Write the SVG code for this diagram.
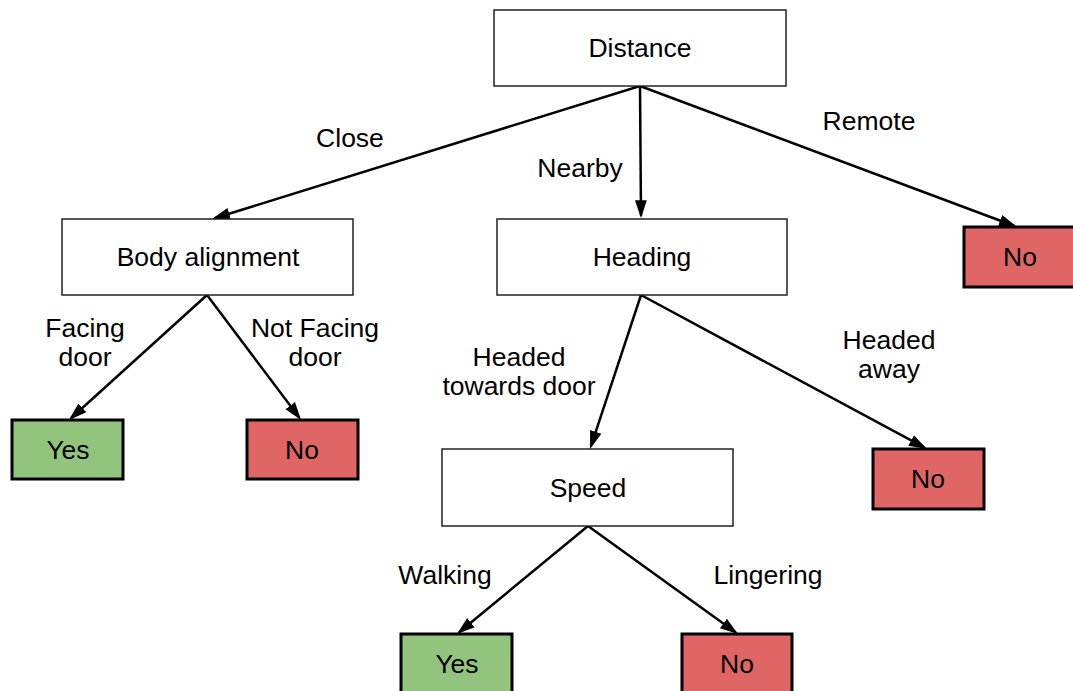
<svg xmlns="http://www.w3.org/2000/svg" width="1073" height="691" viewBox="0 0 1073 691">
<style>
text{font-family:"Liberation Sans",Arial,sans-serif;font-size:26.5px;fill:#000;text-anchor:middle}
.q{fill:#fff;stroke:#222;stroke-width:1.5}
.yes{fill:#93c47d;stroke:#000;stroke-width:3}
.no{fill:#e06666;stroke:#000;stroke-width:3}
.c line{stroke:#000;stroke-width:2.5;fill:none;marker-end:url(#ah)}
</style>
<defs>
<marker id="ah" viewBox="0 0 10 10" refX="8.5" refY="5" markerWidth="18" markerHeight="18" markerUnits="userSpaceOnUse" orient="auto"><path d="M0,1.7L10,5L0,8.3z" fill="#000"/></marker>
</defs>
<rect width="1073" height="691" fill="#fff"/>
<g class="c" id="connectors">
<line x1="640" y1="86" x2="214.6" y2="218.2"/>
<line x1="640" y1="86" x2="641" y2="215.5"/>
<line x1="640" y1="86" x2="1014.5" y2="226"/>
<line x1="207" y1="295" x2="71" y2="418.2"/>
<line x1="207" y1="295" x2="299.4" y2="417.8"/>
<line x1="641" y1="295" x2="590.9" y2="446.4"/>
<line x1="641" y1="295" x2="924.6" y2="447.7"/>
<line x1="588" y1="526" x2="459.1" y2="632.3"/>
<line x1="588" y1="526" x2="735.8" y2="632.4"/>
</g>
<g id="labels">
<text x="350" y="147">Close</text>
<text x="580" y="177">Nearby</text>
<text x="869" y="130">Remote</text>
<text x="85" y="337">Facing</text>
<text x="85" y="366">door</text>
<text x="315" y="337">Not Facing</text>
<text x="315" y="366">door</text>
<text x="519" y="366">Headed</text>
<text x="519" y="395">towards door</text>
<text x="889" y="349">Headed</text>
<text x="889" y="378">away</text>
<text x="445" y="584">Walking</text>
<text x="768" y="584">Lingering</text>
</g>
<g id="distance"><rect class="q" x="494" y="10" width="292" height="76"/><text x="640" y="57">Distance</text></g>
<g id="body"><rect class="q" x="62" y="219" width="291" height="76"/><text x="208" y="266">Body alignment</text></g>
<g id="heading"><rect class="q" x="497" y="219" width="290" height="76"/><text x="642" y="266">Heading</text></g>
<g id="no-remote"><rect class="no" x="964" y="227" width="115" height="60"/><text x="1020" y="266">No</text></g>
<g id="yes-facing"><rect class="yes" x="12" y="420" width="111" height="59"/><text x="68" y="459">Yes</text></g>
<g id="no-notfacing"><rect class="no" x="247" y="420" width="111" height="59"/><text x="302" y="459">No</text></g>
<g id="speed"><rect class="q" x="442" y="449" width="291" height="77"/><text x="588" y="497">Speed</text></g>
<g id="no-away"><rect class="no" x="873" y="449" width="111" height="60"/><text x="928" y="488">No</text></g>
<g id="yes-walking"><rect class="yes" x="401" y="634" width="111" height="62"/><text x="457" y="673">Yes</text></g>
<g id="no-lingering"><rect class="no" x="682" y="634" width="110" height="62"/><text x="737" y="673">No</text></g>
</svg>
